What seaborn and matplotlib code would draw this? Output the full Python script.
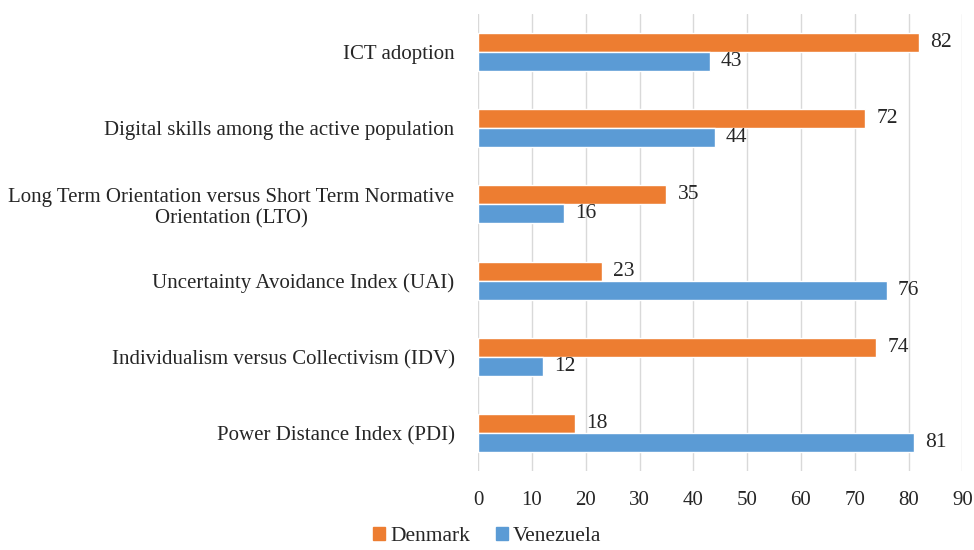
import pandas as pd
import matplotlib.pyplot as plt
import seaborn as sns

# data
categories = ['ICT adoption',
              'Digital skills among the active population',
              'Long Term Orientation versus Short Term Normative\nOrientation (LTO)',
              'Uncertainty Avoidance Index (UAI)',
              'Individualism versus Collectivism (IDV)',
              'Power Distance Index (PDI)']
denmark = [82, 72, 35, 23, 74, 18]
venezuela = [43, 44, 16, 76, 12, 81]
countries = ['Denmark', 'Venezuela']
colors = ['#ED7D31', '#5B9BD5']

df = pd.DataFrame({
    'category': categories * 2,
    'value': denmark + venezuela,
    'country': ['Denmark'] * len(categories) + ['Venezuela'] * len(categories),
})

sns.set_style('white')
plt.rcParams['font.family'] = ['Liberation Serif', 'DejaVu Serif']

fig = plt.figure(figsize=(9.74, 5.5), dpi=100)
ax = fig.add_axes([0.491, 0.143, 0.497, 0.832])
sns.barplot(data=df, y='category', x='value', hue='country', hue_order=countries,
            palette=colors, width=0.5, orient='h', ax=ax, legend=False, saturation=1)

# value labels
for cont in ax.containers:
    ax.bar_label(cont, padding=8, fontsize=15.5, color='#262626')

ax.set_xlim(0, 90)
ax.set_xticks(range(0, 91, 10))
ax.set_xlabel('')
ax.set_ylabel('')
ax.grid(axis='x', color='#D9D9D9', linewidth=1)
ax.set_axisbelow(True)
for s in ax.spines.values():
    s.set_visible(False)
ax.tick_params(axis='x', labelsize=15, length=0, pad=14, colors='#262626')
ax.tick_params(axis='y', labelsize=15, length=0, pad=17, colors='#262626')
for lbl in ax.get_yticklabels():
    lbl.set_multialignment('center')

handles = [plt.Rectangle((0, 0), 1, 1, color=c) for c in colors]
fig.legend(handles, countries, loc='lower center', ncol=2, frameon=False,
           fontsize=15.5, bbox_to_anchor=(0.5, -0.028), handlelength=0.55,
           handleheight=0.55, handletextpad=0.25, columnspacing=1.2)

plt.savefig('out.png', dpi=100)
